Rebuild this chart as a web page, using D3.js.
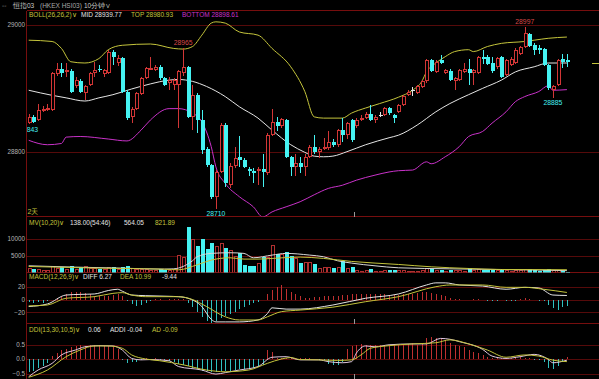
<!DOCTYPE html>
<html><head><meta charset="utf-8">
<script src="https://cdn.jsdelivr.net/npm/d3@7"></script>
<style>
html,body{margin:0;padding:0;background:#000;overflow:hidden;}
svg{display:block;}
text{font-family:"Liberation Sans",Arial,sans-serif;}
</style></head><body>
<svg id="c" width="599" height="379"></svg>
<script>
// ---------- DATA ----------
const opens  = [28845,28855,28850,28866,28867,28866,28923,28930,28927,28927,28903,28911,28892,28905,28924,28931,28923,28924,28958,28940,28948,28895,28855,28868,28891,28916,28931,28929,28934,28916,28908,28906,28906,28924,28934,28855,28890,28850,28805,28779,28729,28768,28842,28748,28777,28792,28787,28773,28770,28770,28772,28766,28826,28847,28840,28850,28792,28776,28782,28776,28792,28808,28799,28805,28806,28816,28810,28834,28826,28850,28840,28850,28853,28860,28850,28858,28858,28869,28858,28863,28874,28890,28897,28893,28902,28911,28945,28926,28945,28924,28928,28912,28913,28926,28930,28924,28924,28950,28950,28940,28933,28949,28921,28937,28940,28955,28965,28986,28968,28963,28962,28937,28897,28905,28946,28944];
const highs  = [28860,28858,28876,28872,28876,28926,28940,28940,28940,28930,28918,28915,28905,28926,28942,28937,28931,28960,28961,28952,28950,28897,28870,28894,28918,28934,28950,28937,28937,28918,28918,28916,28929,28963,28936,28905,28892,28866,28808,28781,28771,28845,28845,28782,28807,28824,28790,28776,28775,28776,28797,28829,28868,28855,28853,28852,28794,28797,28792,28797,28811,28826,28808,28822,28832,28820,28836,28853,28847,28852,28853,28858,28862,28874,28858,28863,28871,28871,28860,28876,28890,28897,28902,28906,28913,28947,28947,28944,28953,28931,28930,28918,28931,28940,28947,28931,28951,28961,28952,28950,28950,28951,28946,28949,28963,28967,28997,28988,28971,28968,28964,28939,28906,28947,28955,28955];
const lows   = [28843,28845,28848,28862,28864,28864,28920,28918,28918,28893,28900,28893,28882,28903,28918,28926,28918,28922,28937,28936,28893,28850,28845,28866,28889,28914,28929,28927,28913,28904,28897,28897,28837,28920,28853,28834,28830,28797,28776,28726,28710,28766,28745,28742,28774,28776,28774,28762,28750,28748,28745,28764,28824,28832,28838,28790,28762,28761,28766,28761,28790,28797,28790,28803,28803,28807,28808,28816,28820,28816,28837,28848,28851,28848,28845,28854,28856,28858,28845,28861,28872,28888,28888,28891,28900,28909,28926,28924,28938,28922,28911,28897,28911,28924,28905,28905,28922,28939,28937,28924,28931,28916,28919,28935,28938,28953,28963,28965,28953,28955,28935,28898,28885,28903,28932,28934];
const closes = [28855,28847,28866,28868,28869,28924,28930,28925,28929,28895,28913,28895,28903,28924,28929,28929,28929,28958,28950,28948,28895,28853,28868,28892,28916,28932,28932,28934,28916,28906,28913,28913,28927,28934,28855,28890,28850,28803,28779,28729,28768,28842,28750,28777,28790,28787,28776,28769,28767,28772,28768,28826,28847,28840,28851,28792,28776,28782,28776,28792,28808,28800,28805,28808,28816,28810,28834,28826,28845,28818,28850,28853,28860,28850,28855,28858,28869,28861,28853,28874,28888,28895,28897,28904,28911,28945,28928,28942,28940,28929,28913,28916,28929,28930,28924,28929,28949,28947,28939,28928,28948,28918,28944,28947,28961,28965,28987,28967,28961,28961,28937,28900,28904,28945,28942,28941];

// Bollinger bands: [candle index, price]
const bollTop = [[0,28976],[5,28974],[7,28963],[9,28942],[12,28940],[15,28947],[17,28961],[20,28968],[26,28970],[31,28963],[33,28962],[35,28966],[37,28984],[39,29003],[40,29005],[42,29003],[45,28989],[49,28984],[52,28963],[56,28934],[59,28895],[61,28855],[63,28853],[67,28853],[69,28861],[72,28869],[75,28876],[79,28886],[82,28897],[84,28911],[85,28926],[87,28940],[89,28950],[91,28958],[94,28961],[95,28958],[98,28966],[101,28971],[106,28974],[108,28976],[111,28979],[115,28981]];
const bollMid = [[0,28897],[5,28889],[8,28885],[12,28880],[15,28885],[18,28890],[22,28899],[26,28907],[30,28913],[32,28914],[35,28911],[38,28903],[42,28887],[45,28871],[49,28853],[52,28834],[56,28811],[59,28799],[61,28793],[63,28792],[65,28793],[68,28800],[72,28811],[77,28822],[79,28826],[83,28842],[87,28863],[90,28876],[94,28890],[97,28900],[101,28913],[104,28926],[108,28934],[111,28940],[113,28940],[115,28940]];
const bollBot = [[0,28818],[4,28811],[7,28813],[8,28823],[11,28824],[17,28820],[21,28817],[24,28834],[26,28850],[30,28868],[32,28868],[35,28861],[37,28847],[39,28808],[40,28776],[42,28750],[45,28729],[48,28713],[50,28697],[52,28705],[55,28713],[58,28721],[61,28732],[64,28742],[67,28747],[70,28755],[74,28763],[77,28768],[79,28770],[82,28771],[85,28784],[86,28781],[89,28792],[92,28808],[94,28824],[97,28832],[99,28845],[102,28863],[104,28879],[106,28887],[109,28895],[111,28904],[112,28897],[115,28898]];

const volumes = [1200,900,1100,700,800,1800,1200,1500,900,1900,1100,1700,2000,1400,1200,900,1000,1600,1500,1100,1700,1800,1200,1000,1100,900,800,700,900,800,700,1000,5200,4700,13500,10100,7900,10100,6900,8800,7900,8900,7400,6700,5000,5700,2300,2000,2000,2700,4700,4700,8100,5500,5400,6000,5000,4200,2700,3100,3200,2500,1400,1500,1500,1200,1600,3500,1400,1600,700,500,600,900,500,400,600,700,800,600,700,500,400,500,600,1200,900,800,700,500,800,600,700,500,1300,600,1100,700,800,700,600,900,800,500,700,600,1000,900,600,500,700,900,600,800,400,138];
const mv10 = [[0,2000],[10,1600],[20,1300],[29,1000],[31,1100],[33,1800],[35,3500],[36,4700],[39,5700],[43,5900],[46,5700],[48,4400],[52,5200],[55,5700],[60,5200],[63,4700],[66,3500],[69,2800],[74,2000],[79,1400],[90,1100],[100,900],[110,700],[115,564]];
const mv20 = [[0,1800],[15,1300],[29,1000],[32,800],[36,2300],[39,3700],[43,4400],[46,4000],[49,4000],[52,4200],[58,4600],[63,4200],[69,3300],[79,2400],[86,1700],[94,1200],[101,900],[115,822]];

const macdHist = [-4,-5,-4,-5,-3,-1,3,6,9,11,12,11,10,8,6,5,5,6,7,8,6,-2,-7,-10,-8,-5,-2,1,0.5,-0.5,0.5,0.5,1,1,-5,-12,-20,-28,-34,-37,-33,-29,-26,-22,-19,-15,-12,-9,-6,-4,-1,8,15,20,22,17,12,9,6,3,3,4,4,5,5,6,6,7,7,8,8,9,9,9,8,8,8,7,7,7,8,8,9,10,11,11,10,9,7,5,3,1,0.5,-0.5,-1,0.5,0.5,-1,-2,-3,-2,-1,-2,-3,-2,1,2,1,-1,-2,-3,-8,-14,-16,-12,-9.44];
const diff = [[0,-11],[4,-7],[8,7],[11,8],[14,8.6],[17,14],[19,16],[20,13],[22,7],[25,6],[30,5],[32,4.4],[34,2],[37,-11],[39,-31],[40,-35],[42,-35],[45,-35],[49,-32],[51,-22],[52,-13],[55,-15],[58,-15],[65,-8.6],[72,2],[79,8.6],[85,22.7],[87,26],[89,26],[92,22.7],[97,21],[102,16],[106,19],[109,18],[112,7],[115,6.27]];
const dea = [[0,-10],[4,-8.6],[8,2],[14,4.4],[18,9.6],[20,10.7],[22,7],[25,4.4],[32,4.4],[35,0],[38,-11],[42,-27],[45,-32],[49,-32],[51,-27],[54,-19],[58,-16.5],[65,-12],[72,-3.4],[79,4.4],[87,20],[90,22.7],[97,22.7],[102,19],[106,19],[110,16],[115,10.99]];

const ddiHist = [-0.45,-0.4,-0.3,-0.25,-0.15,0.1,0.2,0.3,0.35,0.4,0.45,0.5,0.45,0.5,0.5,0.48,0.45,0.45,0.4,0.35,-0.05,-0.15,-0.12,-0.1,-0.03,0.02,-0.02,0.02,-0.03,-0.05,-0.08,-0.12,-0.18,-0.2,-0.25,-0.3,-0.35,-0.4,-0.42,-0.45,-0.44,-0.42,-0.42,-0.4,-0.38,-0.36,-0.35,-0.33,-0.3,-0.28,-0.2,0.3,0.25,0.05,0.04,0.03,0.02,0.02,0.02,0.03,0.02,0.01,-0.03,-0.05,-0.18,-0.22,-0.2,-0.1,0.35,0.45,0.5,0.52,0.5,0.48,0.5,0.5,0.48,0.48,0.5,0.5,0.5,0.52,0.55,0.5,0.55,0.72,0.75,0.72,0.7,0.65,0.55,0.5,0.45,0.4,0.3,0.25,0.2,0.15,0.08,0.03,0.02,0.03,0.02,0.05,0.06,0.08,0.05,0.02,-0.03,-0.05,-0.1,-0.3,-0.35,-0.25,-0.1,0.06];
const addi = [[0,-0.61],[2,-0.38],[5,-0.15],[7,0.14],[10,0.31],[12,0.42],[15,0.46],[18,0.45],[20,0.31],[22,0.02],[24,-0.03],[26,-0.02],[30,-0.06],[32,-0.26],[37,-0.38],[40,-0.52],[42,-0.47],[45,-0.38],[49,-0.26],[52,0.06],[55,0.08],[58,-0.03],[62,-0.03],[64,-0.09],[67,-0.13],[69,-0.09],[70,0.2],[72,0.45],[74,0.42],[77,0.49],[82,0.52],[85,0.52],[88,0.71],[90,0.68],[92,0.6],[97,0.33],[99,0.1],[102,0.02],[105,0.08],[108,0.16],[111,-0.01],[112,-0.13],[115,-0.04]];
const ad = [[0,-0.63],[4,-0.38],[8,0.08],[11,0.31],[14,0.45],[17,0.45],[20,0.37],[22,0.14],[25,0],[28,-0.06],[33,-0.2],[38,-0.38],[42,-0.44],[47,-0.38],[51,-0.15],[54,0],[56,0.05],[58,-0.02],[62,-0.03],[66,-0.05],[69,-0.03],[71,0.14],[73,0.37],[77,0.46],[82,0.52],[87,0.56],[90,0.66],[94,0.52],[98,0.31],[102,0.06],[106,0.14],[109,0.1],[112,-0.04],[115,-0.09]];

const priceTicks = [29000, 28800];
const volTicks = [10000, 5000];
const macdTicks = [20, 0, -20];
const ddiTicks = [0.5, 0, -0.5];
const markers = [{i:106,v:28997,type:'high'},{i:33,v:28965,type:'high'},{i:40,v:28710,type:'low'},{i:112,v:28885,type:'low'},{i:0,v:28843,type:'low'}];

// ---------- DRAW ----------
const N = opens.length;
const svg = d3.select('#c');
const W = 599, H = 379, AX = 26.5;
const RED = '#d23636', CYAN = '#45f2f2', GRID = '#560a0a', FRAME = '#760e0e';
const OLIVE = '#c4c43c', WHITE = '#e4e4e4', MAG = '#c832c8', TXT = '#b4b4b4';

svg.append('rect').attr('width', W).attr('height', H).attr('fill', '#000');

const x = d3.scaleBand().domain(d3.range(N)).range([26.36, 569.24]).paddingInner(0.3).paddingOuter(0.15);
const cx = i => Math.round(x(i) + x.bandwidth() / 2) + 0.5;
const xl = d3.scaleLinear().domain([0, N - 1]).range([x(0) + x.bandwidth() / 2, x(N - 1) + x.bandwidth() / 2]);

const yP = d3.scaleLinear().domain([28800, 29000]).range([151.7, 25]);
const yV = d3.scaleLinear().domain([0, 10000]).range([272.5, 239]);
const yM = d3.scaleLinear().domain([-20, 20]).range([312.3, 286.7]);
const yD = d3.scaleLinear().domain([-0.5, 0.5]).range([373.5, 344.5]);

const defs = svg.append('defs');
defs.append('clipPath').attr('id', 'cpMain').append('rect').attr('x', AX + 0.5).attr('y', 10.5).attr('width', W).attr('height', 206);
defs.append('clipPath').attr('id', 'cpVol').append('rect').attr('x', AX + 0.5).attr('y', 217.5).attr('width', W).attr('height', 55);
defs.append('clipPath').attr('id', 'cpMacd').append('rect').attr('x', AX + 0.5).attr('y', 273).attr('width', W).attr('height', 50.5);
defs.append('clipPath').attr('id', 'cpDdi').append('rect').attr('x', AX + 0.5).attr('y', 324.5).attr('width', W).attr('height', 55);

// frame & grid
const g = svg.append('g').attr('shape-rendering', 'crispEdges');
function hline(y, c) { g.append('line').attr('x1', AX).attr('x2', W).attr('y1', y).attr('y2', y).attr('stroke', c).attr('stroke-width', 1); }
hline(10.5, FRAME);
[216.5, 272.5, 323.5].forEach(y => hline(y, FRAME));
priceTicks.forEach(v => hline(Math.round(yP(v)) + 0.5, GRID));
volTicks.forEach(v => hline(Math.round(yV(v)) + 0.5, GRID));
macdTicks.forEach(v => hline(Math.round(yM(v)) + 0.5, GRID));
ddiTicks.forEach(v => hline(Math.round(yD(v)) + 0.5, GRID));
g.append('line').attr('x1', AX).attr('x2', AX).attr('y1', 10.5).attr('y2', H).attr('stroke', FRAME);

// axis labels
const axT = svg.append('g').attr('font-size', 6.3).attr('fill', TXT).attr('text-anchor', 'end');
priceTicks.forEach(v => axT.append('text').attr('x', 25).attr('y', yP(v)).attr('dy', '0.35em').text(d3.format('d')(v)));
volTicks.forEach(v => axT.append('text').attr('x', 25).attr('y', yV(v)).attr('dy', '0.35em').text(d3.format('d')(v)));
macdTicks.forEach(v => axT.append('text').attr('x', 25).attr('y', yM(v)).attr('dy', '0.35em').text(d3.format('d')(v)));
ddiTicks.forEach(v => axT.append('text').attr('x', 25).attr('y', yD(v)).attr('dy', '0.35em').text(d3.format('.1f')(v)));

// day separator ticks
const sepX = Math.round(xl(69.5)) + 0.5;
[[211.5, 216.5], [318.5, 323.5], [374, 379]].forEach(([a, b]) => g.append('line').attr('x1', sepX).attr('x2', sepX).attr('y1', a).attr('y2', b).attr('stroke', '#9a9a9a'));

// ---- main panel ----
const mainG = svg.append('g').attr('clip-path', 'url(#cpMain)');
const bollLine = d3.line().x(d => xl(d[0])).y(d => yP(d[1])).curve(d3.curveMonotoneX);
mainG.append('path').attr('d', bollLine(bollTop)).attr('fill', 'none').attr('stroke', OLIVE).attr('stroke-width', 1);
mainG.append('path').attr('d', bollLine(bollMid)).attr('fill', 'none').attr('stroke', WHITE).attr('stroke-width', 1);
mainG.append('path').attr('d', bollLine(bollBot)).attr('fill', 'none').attr('stroke', MAG).attr('stroke-width', 1);

const cg = mainG.append('g').attr('shape-rendering', 'crispEdges');
const bw = 3;
for (let i = 0; i < N; i++) {
  const o = opens[i], c = closes[i], h = highs[i], l = lows[i];
  const X = cx(i);
  const col = c > o ? RED : (c < o ? CYAN : WHITE);
  const top = Math.round(yP(Math.max(o, c))), bot = Math.round(yP(Math.min(o, c)));
  const hy = Math.round(yP(h)), ly = Math.round(yP(l));
  if (c > o) {
    cg.append('line').attr('x1', X).attr('x2', X).attr('y1', hy).attr('y2', top).attr('stroke', col);
    cg.append('line').attr('x1', X).attr('x2', X).attr('y1', bot).attr('y2', ly).attr('stroke', col);
    cg.append('rect').attr('x', X - 1.5).attr('y', top + 0.5).attr('width', bw).attr('height', Math.max(1, bot - top - 1)).attr('fill', '#000').attr('stroke', col);
  } else if (c < o) {
    cg.append('line').attr('x1', X).attr('x2', X).attr('y1', hy).attr('y2', ly).attr('stroke', col);
    cg.append('rect').attr('x', X - 2).attr('y', top).attr('width', bw + 1).attr('height', Math.max(1, bot - top)).attr('fill', col);
  } else {
    cg.append('line').attr('x1', X).attr('x2', X).attr('y1', hy).attr('y2', ly).attr('stroke', col);
    cg.append('line').attr('x1', X - 2).attr('x2', X + 2).attr('y1', top + 0.5).attr('y2', top + 0.5).attr('stroke', col);
  }
}
// high / low markers
markers.forEach(m => {
  const t = mainG.append('text').attr('x', xl(m.i)).attr('text-anchor', 'middle').attr('font-size', 6.8)
    .attr('fill', m.type === 'high' ? '#d84848' : CYAN).text(m.v);
  if (m.type === 'high') t.attr('y', yP(m.v) - 2.5); else t.attr('y', yP(m.v) + 7.5);
});
// current mid marker at right edge
svg.append('line').attr('x1', 592).attr('x2', W).attr('y1', Math.round(yP(bollMid[bollMid.length - 1][1])) + 0.5).attr('y2', Math.round(yP(bollMid[bollMid.length - 1][1])) + 0.5).attr('stroke', OLIVE);
svg.append('text').attr('x', 27.5).attr('y', 214).attr('font-size', 7).attr('fill', OLIVE).text('2天');

// ---- volume ----
const vg = svg.append('g').attr('clip-path', 'url(#cpVol)').attr('shape-rendering', 'crispEdges');
for (let i = 0; i < N; i++) {
  const up = closes[i] >= opens[i];
  const X = cx(i), yt = Math.round(yV(volumes[i])), yb = 272;
  if (up) vg.append('rect').attr('x', X - 1.5).attr('y', yt + 0.5).attr('width', bw).attr('height', Math.max(0.5, yb - yt)).attr('fill', '#000').attr('stroke', '#b03030');
  else vg.append('rect').attr('x', X - 2).attr('y', yt).attr('width', bw + 1).attr('height', Math.max(1, yb - yt + 0.5)).attr('fill', CYAN);
}
const vLine = d3.line().x(d => xl(d[0])).y(d => yV(d[1])).curve(d3.curveMonotoneX);
vg.append('path').attr('d', vLine(mv10)).attr('fill', 'none').attr('stroke', '#d8d8d8').attr('shape-rendering', 'auto');
vg.append('path').attr('d', vLine(mv20)).attr('fill', 'none').attr('stroke', OLIVE).attr('shape-rendering', 'auto');

// ---- MACD ----
const mg = svg.append('g').attr('clip-path', 'url(#cpMacd)');
const mh = mg.append('g').attr('shape-rendering', 'crispEdges');
macdHist.forEach((v, i) => mh.append('line').attr('x1', cx(i)).attr('x2', cx(i)).attr('y1', yM(0)).attr('y2', yM(v)).attr('stroke', v >= 0 ? '#c03030' : '#30c0c0'));
const mLine = d3.line().x(d => xl(d[0])).y(d => yM(d[1])).curve(d3.curveMonotoneX);
mg.append('path').attr('d', mLine(diff)).attr('fill', 'none').attr('stroke', WHITE);
mg.append('path').attr('d', mLine(dea)).attr('fill', 'none').attr('stroke', OLIVE);

// ---- DDI ----
const dg = svg.append('g').attr('clip-path', 'url(#cpDdi)');
const dh = dg.append('g').attr('shape-rendering', 'crispEdges');
ddiHist.forEach((v, i) => dh.append('line').attr('x1', cx(i)).attr('x2', cx(i)).attr('y1', yD(0)).attr('y2', yD(v)).attr('stroke', v >= 0 ? '#c03030' : '#30c0c0'));
const dLine = d3.line().x(d => xl(d[0])).y(d => yD(d[1])).curve(d3.curveMonotoneX);
dg.append('path').attr('d', dLine(addi)).attr('fill', 'none').attr('stroke', '#e0c8e0');
dg.append('path').attr('d', dLine(ad)).attr('fill', 'none').attr('stroke', OLIVE);

// ---- header texts ----
function label(xp, yp, txt, col, size) {
  svg.append('text').attr('x', xp).attr('y', yp).attr('font-size', size || 6.5).attr('fill', col).text(txt);
}
label(2, 7.5, '◦◦', '#9a9a9a', 6.5);
label(13, 7.5, '恒指03', '#c8c8c8', 6.5);
label(40, 7.5, '(HKEX HSI03)', '#a8a8a8', 6.5);
label(84, 7.5, '10分钟∨', '#c8c8c8', 6.5);

label(29, 17.3, 'BOLL(26,26,2)∨', OLIVE);
label(81, 17.3, 'MID 28939.77', WHITE);
label(131, 17.3, 'TOP 28980.93', OLIVE);
label(182, 17.3, 'BOTTOM 28898.61', MAG);

label(29, 225.3, 'MV(10,20)∨', OLIVE);
label(70, 225.3, '138.00(54:46)', WHITE);
label(124, 225.3, '564.05', WHITE);
label(155, 225.3, '821.89', OLIVE);

label(29, 279.3, 'MACD(12,26,9)∨', OLIVE);
label(83, 279.3, 'DIFF 6.27', WHITE);
label(120, 279.3, 'DEA 10.99', OLIVE);
label(162, 279.3, '-9.44', WHITE);

label(29, 332.3, 'DDI(13,30,10,5)∨', OLIVE);
label(88, 332.3, '0.06', WHITE);
label(110, 332.3, 'ADDI -0.04', WHITE);
label(152, 332.3, 'AD -0.09', OLIVE);
</script></body></html>
